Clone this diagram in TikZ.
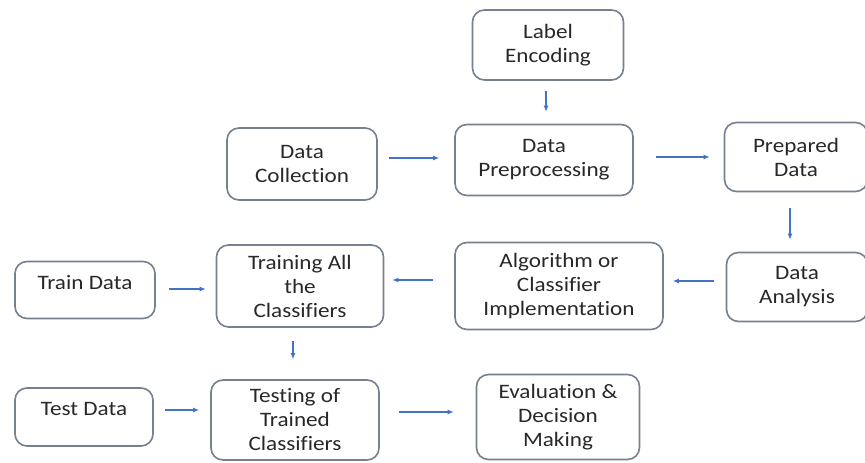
\documentclass[tikz,border=0pt]{standalone}
\usepackage{fontspec}
\setmainfont{Carlito}[FakeStretch=1.13, Ligatures=NoCommon]
\usetikzlibrary{arrows.meta}

\definecolor{boxline}{RGB}{118,128,142}
\definecolor{flowblue}{RGB}{68,114,196}
\definecolor{boxtext}{RGB}{40,40,40}

\tikzset{
	stage/.style={draw=boxline, line width=1.6pt, rounded corners=12pt, align=center,
		text=boxtext, font=\fontsize{20.5}{24}\selectfont, inner sep=0pt},
	flow/.style={draw=flowblue, line width=1.1pt, -{Latex[length=6pt,width=5pt]}},
}

\begin{document}
\begin{tikzpicture}[x=1pt, y=-1pt]
			%%%%% START %%%%%
			
			\useasboundingbox (0, 0) rectangle (865, 463);
			\fill[white] (0, 0) rectangle (865, 463);
			
			% top row
			\node[stage, minimum width=151pt, minimum height=70pt] (lab) at (548, 45) {Label\\Encoding};
			
			% second row
			\node[stage, minimum width=150pt, minimum height=72pt] (coll) at (302, 164) {Data\\Collection};
			\node[stage, minimum width=178pt, minimum height=71pt] (pre) at (544, 160) {Data\\Preprocessing};
			\node[stage, minimum width=143pt, minimum height=69pt] (prep) at (796, 157) {Prepared\\Data};
			
			% third row
			\node[stage, minimum width=140pt, minimum height=57pt, text depth=16pt] (trd) at (85, 290) {Train Data};
			\node[stage, minimum width=167pt, minimum height=82pt] (trn) at (300, 286) {Training All\\the\\Classifiers};
			\node[stage, minimum width=208pt, minimum height=87pt] (alg) at (559, 286) {Algorithm or\\Classifier\\Implementation};
			\node[stage, minimum width=141pt, minimum height=69pt] (ana) at (797, 287) {Data\\Analysis};
			
			% bottom row
			\node[stage, minimum width=138pt, minimum height=58pt, text depth=16pt] (ted) at (84, 417) {Test Data};
			\node[stage, minimum width=168pt, minimum height=80pt] (tst) at (295, 420) {Testing of\\Trained\\Classifiers};
			\node[stage, minimum width=163pt, minimum height=85pt] (eva) at (558, 417) {Evaluation \&\\Decision\\Making};
			
			% connectors
			\draw[flow, shorten <=10pt, shorten >=12pt] (lab.south -| 546, 0) -- (pre.north -| 546, 0);
			\draw[flow, shorten <=11pt, shorten >=15pt] (coll.east |- 0, 158) -- (pre.west |- 0, 158);
			\draw[flow, shorten <=22pt, shorten >=14pt] (pre.east |- 0, 157) -- (prep.west |- 0, 157);
			\draw[flow, shorten <=16pt, shorten >=12pt] (prep.south -| 790, 0) -- (ana.north -| 790, 0);
			\draw[flow, shorten <=12pt, shorten >=9pt] (ana.west |- 0, 281) -- (alg.east |- 0, 281);
			\draw[flow, shorten <=21pt, shorten >=8pt] (alg.west |- 0, 280) -- (trn.east |- 0, 280);
			\draw[flow, shorten <=13pt, shorten >=10pt] (trd.east |- 0, 289) -- (trn.west |- 0, 289);
			\draw[flow, shorten <=13pt, shorten >=20pt] (trn.south -| 293, 0) -- (tst.north -| 293, 0);
			\draw[flow, shorten <=11pt, shorten >=11pt] (ted.east |- 0, 410) -- (tst.west |- 0, 410);
			\draw[flow, shorten <=19pt, shorten >=22pt] (tst.east |- 0, 412) -- (eva.west |- 0, 412);
			
			%%%%% END %%%%%
\end{tikzpicture}
\end{document}
